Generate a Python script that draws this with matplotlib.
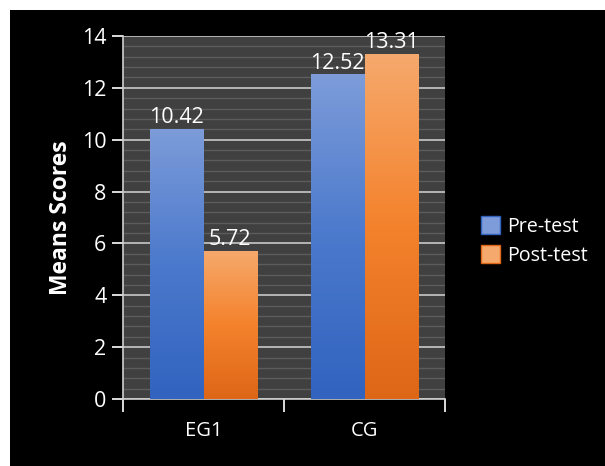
import numpy as np
import matplotlib.pyplot as plt
from matplotlib.patches import Rectangle, Patch
from matplotlib.colors import LinearSegmentedColormap

groups = ['EG1', 'CG']
series = ['Pre-test', 'Post-test']
pre_test = [10.42, 12.52]
post_test = [5.72, 13.31]

plt.rcParams['font.family'] = ['Open Sans', 'DejaVu Sans']

# bottom / middle / top colours of each gradient bar
grad = {
    'Pre-test': ('#3163bf', '#4b79cc', '#7d9cd9'),
    'Post-test': ('#de6617', '#f4822c', '#f6a96d'),
}

fig = plt.figure(figsize=(6.05, 4.66), dpi=100, facecolor='white')
fig.patches.append(Rectangle((10 / 605, 0), 1, 1 - 10 / 466, transform=fig.transFigure,
                             facecolor='black', edgecolor='none', zorder=-10))

ax = fig.add_axes([123 / 605, 1 - 399 / 466, (445 - 123) / 605, (399 - 36) / 466])
ax.set_facecolor('#404040')

x = np.arange(len(groups)) + 0.5
width = 0.333
ymax = 14
fs = 15.5

def gradient_bars(xpos, vals, name):
    cmap = LinearSegmentedColormap.from_list(name, list(grad[name]))
    bars = ax.bar(xpos, vals, width, color='none', edgecolor='none', zorder=3)
    for b, v in zip(bars, vals):
        x0 = b.get_x()
        img = ax.imshow(np.linspace(0, 1, 256).reshape(-1, 1), cmap=cmap, origin='lower',
                        extent=[x0, x0 + width, 0, v], aspect='auto', zorder=3)
        img.set_clip_path(b)
        ax.text(x0 + width / 2, v + 0.02, f'{v:.2f}', ha='center', va='bottom',
                color='white', fontsize=fs, zorder=5, clip_on=False)

gradient_bars(x - width / 2, pre_test, 'Pre-test')
gradient_bars(x + width / 2, post_test, 'Post-test')

ax.set_xlim(0, len(groups))
ax.set_ylim(0, ymax)

# y axis: major every 2, faint minor lines in between
ax.set_yticks(np.arange(0, ymax + 1, 2))
ax.set_yticks(np.arange(0, ymax, 0.4), minor=True)
ax.grid(axis='y', which='major', color='#c8c8c8', linewidth=1.2, zorder=1)
ax.grid(axis='y', which='minor', color='#5c5c5c', linewidth=1.0, zorder=1)
ax.set_axisbelow(True)
ax.tick_params(axis='y', which='major', colors='white', labelcolor='white', labelsize=fs,
               length=8, width=1.2, direction='out', pad=4)
ax.tick_params(axis='y', which='minor', length=0)

# x axis: labels at group centres, tick marks on group boundaries
ax.set_xticks(x)
ax.set_xticklabels(groups)
ax.set_xticks(np.arange(0, len(groups) + 1), minor=True)
ax.tick_params(axis='x', which='major', length=0, labelcolor='white', labelsize=14.5, pad=16)
ax.tick_params(axis='x', which='minor', colors='white', length=9, width=1.2, direction='out')

for s in ['top', 'right']:
    ax.spines[s].set_visible(False)
for s in ['left', 'bottom']:
    ax.spines[s].set_color('#d0d0d0')
    ax.spines[s].set_linewidth(1.2)

ax.set_ylabel('Means Scores', color='white', fontsize=16.5, fontweight='bold', labelpad=6)

handles = [Patch(facecolor=grad[s][2], edgecolor=grad[s][0], label=s) for s in series]
leg = fig.legend(handles=handles, loc='center left', bbox_to_anchor=(463 / 605, 1 - 241 / 466),
                 frameon=False, fontsize=14.2, labelcolor='white', handlelength=1.0,
                 handleheight=1.0, handletextpad=0.35, labelspacing=0.4)

fig.savefig('out.png', dpi=100, facecolor=fig.get_facecolor())
